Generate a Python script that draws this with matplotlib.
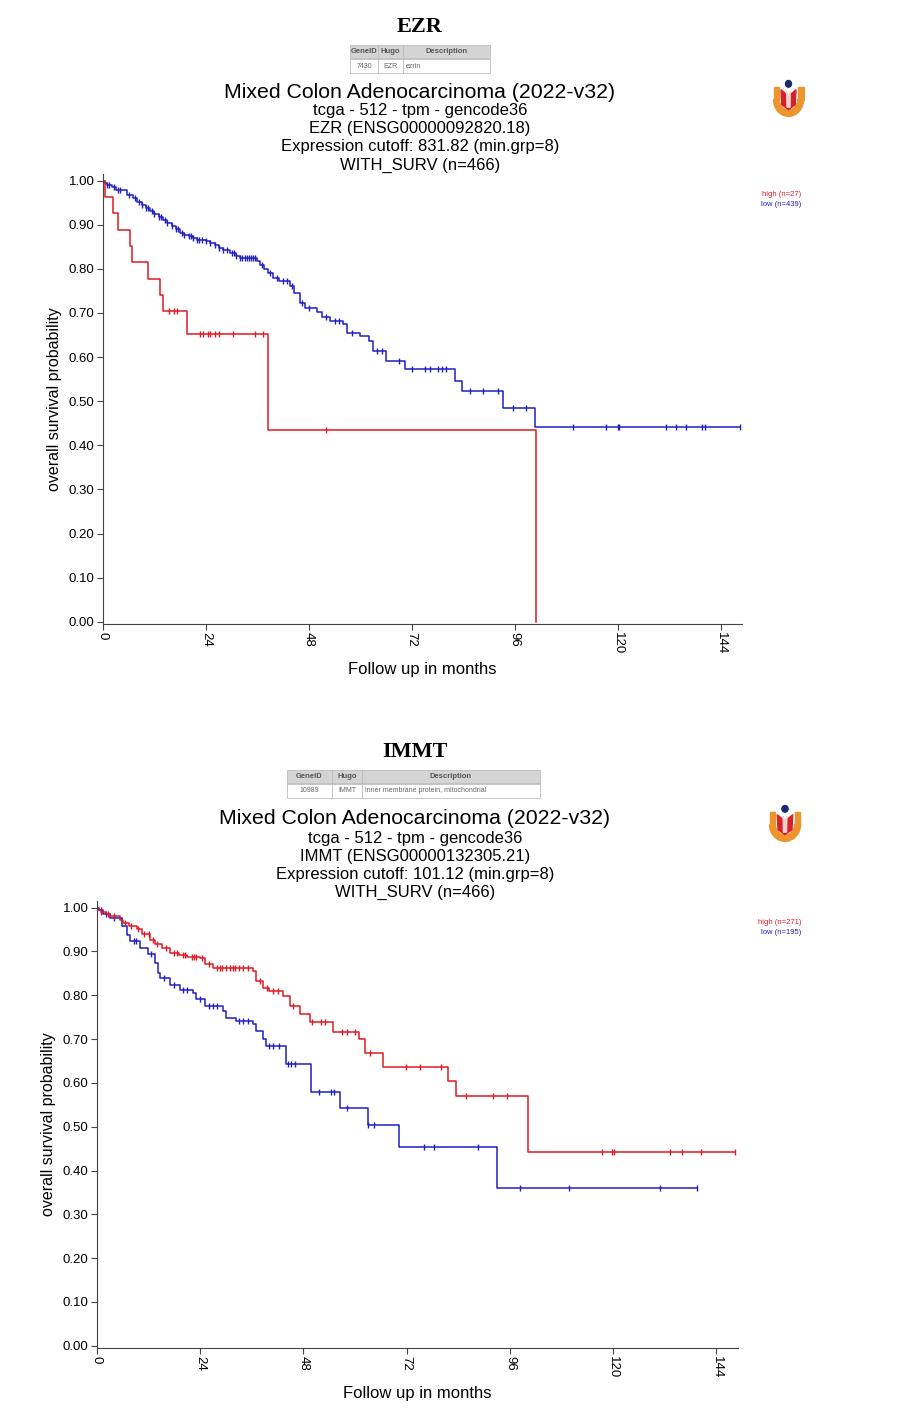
import matplotlib
matplotlib.use('Agg')
import matplotlib.pyplot as plt
import numpy as np
from matplotlib.patches import Rectangle, Wedge, Circle, Polygon

plt.rcParams['font.family'] = ['Liberation Sans', 'DejaVu Sans']

RED = '#e01a22'
BLUE = '#1f1fc4'

# ---- EZR panel data (months, survival) ----
ezr_hi_t = [0, 0.5, 2.4, 3.6, 6.3, 6.8, 10.6, 13.3, 14, 19.5, 38.5, 101]
ezr_hi_s = [1.0, 0.963, 0.926, 0.889, 0.852, 0.815, 0.778, 0.741, 0.704, 0.652, 0.435, 0.0]
ezr_hi_c = [15.5, 16.5, 17.2, 22.6, 23.3, 24.5, 25, 26, 27, 30.3, 35.4, 37.3, 52]

ezr_lo_t = [0, 0.5, 1, 2, 3, 5.5, 7, 8, 9, 10, 11, 12, 13, 14, 15, 16, 17, 18, 19, 20,
            21, 22, 24, 25, 26, 27, 28, 29.5, 31, 32, 35.8, 36.6, 37.5, 38.5, 39.7, 41,
            43.6, 44.5, 45.9, 47, 49.8, 51, 53, 56, 56.8, 60, 62, 63, 66, 70.4, 82, 83.6,
            93.3, 100.7, 148.5]
ezr_lo_s = [1.0, 0.995, 0.99, 0.985, 0.979, 0.968, 0.96, 0.952, 0.945, 0.938, 0.932, 0.925,
            0.918, 0.91, 0.903, 0.897, 0.89, 0.882, 0.877, 0.874, 0.87, 0.866, 0.862, 0.858,
            0.853, 0.848, 0.843, 0.835, 0.829, 0.825, 0.817, 0.808, 0.8, 0.79, 0.78, 0.772,
            0.762, 0.745, 0.722, 0.712, 0.702, 0.69, 0.682, 0.675, 0.655, 0.648, 0.637, 0.614,
            0.591, 0.572, 0.546, 0.522, 0.485, 0.441, 0.441]
ezr_lo_c = [1, 1.5, 2.5, 3.5, 4, 6, 7.5, 8.5, 9, 10, 10.5, 11.5, 12, 13, 13.5, 14.5, 15, 16,
            17, 17.5, 18.5, 19, 20, 20.5, 21, 22, 22.5, 23, 24, 25, 26, 27, 28, 29, 30, 30.5,
            31, 32, 32.5, 33, 33.5, 34, 34.5, 35, 35.5, 37, 39, 40.5, 42, 43, 44, 46.5, 48,
            52, 54, 55, 58, 64, 65, 69, 72, 75, 76.2, 78, 79, 80, 85.5, 88.6, 92, 95.6, 98.6,
            109.6, 117.4, 120, 120.3, 131.2, 133.7, 136, 139.6, 140.3, 148.5]

# ---- IMMT panel data ----
immt_hi_t = [0, 0.3, 1, 2, 3, 5.3, 6, 7.5, 9.2, 10.5, 12.3, 13.5, 15, 17, 19, 21, 23.9, 25,
             27, 36.2, 37, 38.6, 40, 43.2, 44.8, 47.1, 49.4, 54.8, 61, 62.2, 66.5, 81.7, 83.4,
             100.3, 148.4]
immt_hi_s = [1.0, 0.995, 0.99, 0.985, 0.98, 0.972, 0.964, 0.957, 0.95, 0.94, 0.927, 0.918,
             0.907, 0.896, 0.891, 0.888, 0.885, 0.872, 0.862, 0.855, 0.832, 0.817, 0.81, 0.798,
             0.775, 0.757, 0.739, 0.716, 0.70, 0.669, 0.637, 0.605, 0.569, 0.443, 0.443]
immt_hi_c = [1, 2.5, 4, 6.5, 8, 9.5, 11, 12, 13, 14, 16, 18, 18.5, 20, 20.5, 22, 22.5, 23,
             24.5, 26, 28, 28.5, 29, 30, 31, 31.5, 32, 33, 34, 35, 38, 39.5, 41, 42, 45.5,
             50, 52, 53, 57, 58, 60, 63.5, 71.9, 75, 80, 85.8, 92.1, 95.4, 117.3, 119.8,
             120.2, 133.3, 135.9, 140.5, 148.3]

immt_lo_t = [0, 0.5, 1.5, 3, 5.7, 6.9, 7.7, 10, 11.9, 13.5, 14.2, 14.6, 17, 19.3, 22.3, 23.1,
             25.1, 29.3, 30.1, 32.4, 36.3, 37, 38.6, 39.4, 44, 49.8, 56.4, 62.9, 70.3, 93,
             139.5]
immt_lo_s = [1.0, 0.995, 0.985, 0.976, 0.957, 0.938, 0.923, 0.907, 0.893, 0.873, 0.85, 0.84,
             0.824, 0.813, 0.806, 0.791, 0.775, 0.764, 0.749, 0.741, 0.734, 0.718, 0.70,
             0.684, 0.642, 0.58, 0.542, 0.504, 0.453, 0.36, 0.36]
immt_lo_c = [1, 2, 4, 8.5, 9, 12.5, 15.5, 18, 20, 21, 24, 26, 27, 28, 33, 34, 35, 40, 41,
             42.4, 44.5, 45, 46, 51.5, 54.5, 55, 58, 63, 64.3, 76, 78.4, 88.5, 98.4, 109.6,
             130.9, 139.4]


def surv_at(t, s, c):
    idx = np.searchsorted(t, c, side='right') - 1
    return np.array(s)[idx]


def panel(ax, hi, lo, xmax):
    for (t, s, c), col in ((lo, BLUE), (hi, RED)):
        ax.step(t, s, where='post', color=col, lw=1.1)
        ax.plot(c, surv_at(t, s, c), ls='none', marker='|', ms=5, mew=1.0, color=col)
    ax.set_xlim(0, xmax)
    ax.set_ylim(-0.005, 1.015)
    ax.set_yticks(np.arange(0, 1.01, 0.1))
    ax.set_yticklabels(['%.2f' % v for v in np.arange(0, 1.01, 0.1)], fontsize=9.5)
    ax.set_xticks(np.arange(0, 145, 24))
    ax.set_xticklabels([str(v) for v in range(0, 145, 24)], rotation=-90, fontsize=9.5)
    for sp in ('top', 'right'):
        ax.spines[sp].set_visible(False)
    for sp in ('left', 'bottom'):
        ax.spines[sp].set_color('#444444')
    ax.tick_params(length=4, color='#444444', pad=2)
    ax.set_ylabel('overall survival probability', fontsize=11.5, labelpad=5)
    ax.set_xlabel('Follow up in months', fontsize=12, labelpad=5)


def logo(fig, x, y, w, h):
    la = fig.add_axes([x / 902, 1 - (y + h) / 1423, w / 902, h / 1423])
    la.set_xlim(-1.1, 1.1)
    la.set_ylim(-1.1, 1.3)
    la.axis('off')
    la.add_patch(Wedge((0, 0), 1.0, 180, 360, width=0.38, color='#ec952c'))
    la.add_patch(Rectangle((-1.0, 0), 0.38, 0.75, color='#ec952c'))
    la.add_patch(Rectangle((0.62, 0), 0.38, 0.75, color='#ec952c'))
    la.add_patch(Polygon([(-0.5, 0.6), (0, 0.2), (0.5, 0.6), (0.45, -0.3), (0, -0.6),
                          (-0.45, -0.3)], color='#d82028'))
    la.add_patch(Polygon([(-0.12, 0.5), (0, 0.1), (0.12, 0.5), (0.1, -0.45), (-0.1, -0.45)],
                         color='#f4d0d0'))
    la.add_patch(Circle((0, 0.95), 0.2, color='#1a2a6a'))


fig = plt.figure(figsize=(9.02, 14.23), dpi=100)
ov = fig.add_axes([0, 0, 1, 1])
ov.set_xlim(0, 902)
ov.set_ylim(1423, 0)
ov.axis('off')


def header(gene, gy, tx, cols, row, col_x, title_y, lines, cx):
    ov.text(cx, gy, gene, ha='center', va='center', fontsize=16, fontweight='bold',
            family='Liberation Serif')
    x0, x1 = tx
    ty = gy + 18
    ov.add_patch(Rectangle((x0, ty), x1 - x0, 13, facecolor='#d4d4d4', edgecolor='#bbbbbb',
                           lw=0.6))
    ov.add_patch(Rectangle((x0, ty + 14), x1 - x0, 14, facecolor='white', edgecolor='#bbbbbb',
                           lw=0.6))
    edges = [x0] + col_x + [x1]
    for i in range(3):
        xc = (edges[i] + edges[i + 1]) / 2
        ov.text(xc, ty + 6.5, cols[i], ha='center', va='center', fontsize=5.5,
                fontweight='bold', color='#555555')
        if i < 2:
            ov.text(xc, ty + 21, row[i], ha='center', va='center', fontsize=5, color='#666666')
        else:
            ov.text(edges[i] + 3, ty + 21, row[i], ha='left', va='center', fontsize=5,
                    color='#666666')
    for xc in col_x:
        ov.plot([xc, xc], [ty, ty + 28], color='#bbbbbb', lw=0.6)
    ov.text(cx, title_y, 'Mixed Colon Adenocarcinoma (2022-v32)', ha='center', va='center',
            fontsize=15.3)
    for i, ln in enumerate(lines):
        ov.text(cx, title_y + 19 + 18 * i, ln, ha='center', va='center', fontsize=12)


header('EZR', 27, (350, 490), ['GeneID', 'Hugo', 'Description'], ['7430', 'EZR', 'ezrin'],
       [378, 403], 92,
       ['tcga - 512 - tpm - gencode36', 'EZR (ENSG00000092820.18)',
        'Expression cutoff: 831.82 (min.grp=8)', 'WITH_SURV (n=466)'], 420)
header('IMMT', 752, (287, 540), ['GeneID', 'Hugo', 'Description'],
       ['10989', 'IMMT', 'inner membrane protein, mitochondrial'],
       [332, 362], 819,
       ['tcga - 512 - tpm - gencode36', 'IMMT (ENSG00000132305.21)',
        'Expression cutoff: 101.12 (min.grp=8)', 'WITH_SURV (n=466)'], 415)

# legends and p-values
ov.text(801, 194, 'high (n=27)', ha='right', va='center', fontsize=5.5, color=RED)
ov.text(801, 205, 'low (n=439)', ha='right', va='center', fontsize=5.5, color=BLUE)
ov.text(740, 597, 'raw p 4.8e-03', ha='right', va='center', fontsize=5.5, color='#333333')
ov.text(740, 609, 'bonf p 1.000', ha='right', va='center', fontsize=5.5, color='#333333')
ov.text(801, 922, 'high (n=271)', ha='right', va='center', fontsize=5.5, color=RED)
ov.text(801, 933, 'low (n=195)', ha='right', va='center', fontsize=5.5, color=BLUE)
ov.text(737, 1322, 'raw p 9.2e-03', ha='right', va='center', fontsize=5.5, color='#333333')
ov.text(737, 1333, 'bonf p 1.000', ha='right', va='center', fontsize=5.5, color='#333333')

ax1 = fig.add_axes([103 / 902, 1 - 624 / 1423, 639 / 902, 450 / 1423])
panel(ax1, (ezr_hi_t, ezr_hi_s, ezr_hi_c), (ezr_lo_t, ezr_lo_s, ezr_lo_c), 149)

ax2 = fig.add_axes([97 / 902, 1 - 1348 / 1423, 641 / 902, 447 / 1423])
panel(ax2, (immt_hi_t, immt_hi_s, immt_hi_c), (immt_lo_t, immt_lo_s, immt_lo_c), 149)

logo(fig, 772, 78, 33, 40)
logo(fig, 768, 803, 34, 40)

fig.savefig('out.png', dpi=100)
